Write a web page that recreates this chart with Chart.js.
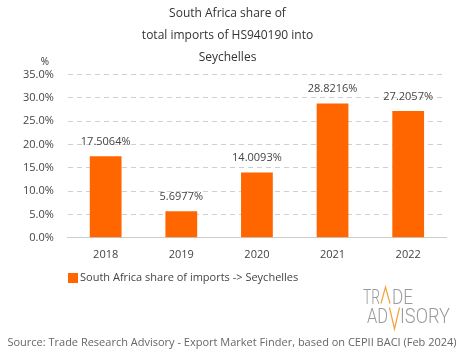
<!DOCTYPE html>
<html>
<head>
<meta charset="utf-8">
<script src="https://cdn.jsdelivr.net/npm/chart.js@4"></script>
<style>
html,body{margin:0;padding:0;background:#fff;}
#wrap{width:465px;height:359px;position:relative;}
</style>
</head>
<body>
<div id="wrap"><canvas id="c" width="465" height="359"></canvas></div>
<script>
const categories = ['2018','2019','2020','2021','2022'];
const shareValues = [17.5064, 5.6977, 14.0093, 28.8216, 27.2057];
const valueLabels = ['17.5064%','5.6977%','14.0093%','28.8216%','27.2057%'];
const titleLines = ['South Africa share of','total imports of HS940190 into','Seychelles'];
const seriesName = 'South Africa share of imports -> Seychelles';
const sourceText = 'Source: Trade Research Advisory - Export Market Finder, based on CEPII BACI (Feb 2024)';

const FONT = "'Open Sans', sans-serif";
const ORANGE = '#FF6600';

const extras = {
  id: 'extras',
  afterDatasetsDraw(chart) {
    const ctx = chart.ctx;
    const meta = chart.getDatasetMeta(0);
    ctx.save();
    ctx.font = "11px " + FONT;
    ctx.fillStyle = '#444';
    ctx.textAlign = 'center';
    ctx.textBaseline = 'bottom';
    meta.data.forEach((bar, i) => {
      ctx.fillText(valueLabels[i], bar.x, bar.y - 9);
    });
    // % unit label
    ctx.textBaseline = 'middle';
    ctx.font = "10px " + FONT;
    ctx.fillStyle = '#333';
    ctx.fillText('%', 45, 62);
    // legend (drawn manually)
    const ds = chart.data.datasets[0];
    ctx.fillStyle = ds.backgroundColor;
    ctx.fillRect(68, 273, 10, 10);
    ctx.fillStyle = '#444';
    ctx.textAlign = 'left';
    ctx.font = "11px " + FONT;
    ctx.fillText(ds.label, 80, 278);
    // source
    ctx.textAlign = 'center';
    ctx.fillStyle = '#666';
    ctx.fillText(sourceText, 232, 343);
    // logo
    ctx.fillStyle = '#9a9a9a';
    ctx.textAlign = 'left';
    ctx.textBaseline = 'alphabetic';
    ctx.font = "300 20px Roboto, 'Liberation Sans', sans-serif";
    ctx.fillText('TR', 363, 303.5, 17);
    ctx.fillText('DE', 392, 303.5, 21);
    ctx.fillText('AD', 367, 322.5, 21);
    ctx.fillText('ISORY', 400, 322.5, 50);
    ctx.strokeStyle = '#F2A33A';
    ctx.lineWidth = 1.2;
    ctx.beginPath();
    ctx.moveTo(381, 303.5); ctx.lineTo(385.5, 287); ctx.lineTo(390, 303.5);
    ctx.stroke();
    ctx.beginPath();
    ctx.moveTo(389.5, 307.5); ctx.lineTo(394.5, 329); ctx.lineTo(399.5, 307.5);
    ctx.stroke();
    ctx.restore();
  }
};

new Chart(document.getElementById('c'), {
  type: 'bar',
  data: {
    labels: categories,
    datasets: [{
      label: seriesName,
      data: shareValues,
      backgroundColor: ORANGE,
      borderWidth: 0,
      barPercentage: 0.42,
      categoryPercentage: 1.0
    }]
  },
  options: {
    responsive: false,
    animation: false,
    devicePixelRatio: 1,
    layout: { padding: { top: 2, left: 9, right: 19, bottom: 96 } },
    plugins: {
      title: {
        display: true,
        text: titleLines,
        color: '#333',
        font: { family: FONT, size: 12, weight: 'normal', lineHeight: 1.85 },
        padding: { top: 0, bottom: 6 }
      },
      legend: { display: false },
      tooltip: { enabled: false }
    },
    scales: {
      x: {
        grid: { display: false },
        border: { color: '#ccc' },
        ticks: { color: '#444', font: { family: FONT, size: 11 }, padding: 2 }
      },
      y: {
        min: 0, max: 35,
        ticks: {
          stepSize: 5,
          color: '#444',
          font: { family: FONT, size: 11 },
          padding: 14,
          callback: v => v.toFixed(1) + '%'
        },
        grid: { color: '#cfcfcf', drawTicks: false },
        border: { display: true, width: 0, dash: [5, 4] }
      }
    }
  },
  plugins: [extras]
});
</script>
</body>
</html>
